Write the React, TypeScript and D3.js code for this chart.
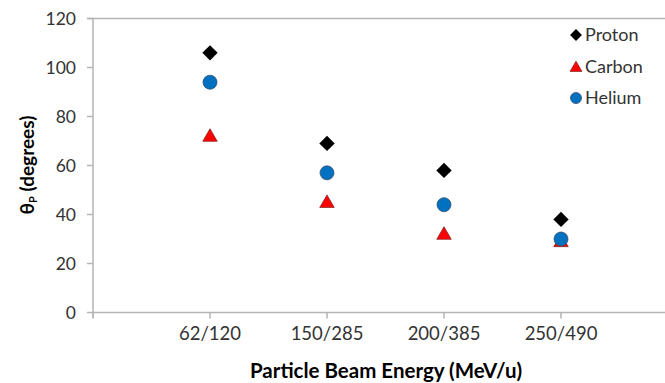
import React from "react";
import * as d3 from "d3";

const categories = ["62/120", "150/285", "200/385", "250/490"];
const proton = [106, 69, 58, 38];
const carbon = [72, 45, 32, 29];
const helium = [94, 57, 44, 30];
const yTicks = [0, 20, 40, 60, 80, 100, 120];

const W = 665;
const H = 383;
const FONT = "Lato, 'Open Sans', sans-serif";
const AXIS = "#b4b4b4";
const TXT = "#333333";

export default function App() {
  const x = d3.scaleLinear().domain([0, 5]).range([93, 678]);
  const y = d3.scaleLinear().domain([0, 120]).range([312.5, 18.5]);
  const diamond = d3.symbol().type(d3.symbolDiamond2).size(150)()!;
  const triangle = d3.symbol().type(d3.symbolTriangle2).size(150)()!;

  const Diamond = ({ cx, cy }: { cx: number; cy: number }) => (
    <path d={diamond} transform={`translate(${cx},${cy})`} fill="#000" />
  );
  const Tri = ({ cx, cy }: { cx: number; cy: number }) => (
    <path d={triangle} transform={`translate(${cx},${cy + 1})`} fill="#ff0000" stroke="#8a2a2a" strokeWidth={0.8} />
  );
  const Circ = ({ cx, cy }: { cx: number; cy: number }) => (
    <circle cx={cx} cy={cy} r={7} fill="#0070c0" stroke="#3a4f6a" strokeWidth={0.8} />
  );

  return (
    <svg width={W} height={H} style={{ position: "absolute", left: 0, top: 0, background: "#fff" }} fontFamily={FONT}>
      {/* top line */}
      <line x1={87} x2={W} y1={y(120)} y2={y(120)} stroke={AXIS} strokeWidth={1.5} />
      {/* y axis */}
      <line x1={x(0)} x2={x(0)} y1={y(120)} y2={y(0) + 5} stroke={AXIS} strokeWidth={1.5} />
      {yTicks.map((t) => (
        <g key={t}>
          <line x1={87} x2={x(0)} y1={y(t)} y2={y(t)} stroke={AXIS} strokeWidth={1.5} />
          <text x={76} y={y(t)} dy="0.36em" textAnchor="end" fontSize={17.5} fill={TXT}>
            {t}
          </text>
        </g>
      ))}
      {/* x axis */}
      <line x1={x(0)} x2={W} y1={y(0)} y2={y(0)} stroke={AXIS} strokeWidth={1.5} />
      {[0, 1, 2, 3, 4].map((i) => (
        <line key={i} x1={x(i)} x2={x(i)} y1={y(0)} y2={y(0) + 6} stroke={AXIS} strokeWidth={1.5} />
      ))}
      {categories.map((c, i) => (
        <text key={c} x={x(i + 1)} y={340} textAnchor="middle" fontSize={18.5} fill={TXT}>
          {c}
        </text>
      ))}
      {/* data */}
      {carbon.map((v, i) => (
        <Tri key={"c" + i} cx={x(i + 1)} cy={y(v)} />
      ))}
      {helium.map((v, i) => (
        <Circ key={"h" + i} cx={x(i + 1)} cy={y(v)} />
      ))}
      {proton.map((v, i) => (
        <Diamond key={"p" + i} cx={x(i + 1)} cy={y(v)} />
      ))}
      {/* axis titles */}
      <text x={386} y={378} textAnchor="middle" fontSize={20.5} fontWeight="bold" fill="#000">
        Particle Beam Energy (MeV/u)
      </text>
      <text transform="translate(34,165) rotate(-90)" textAnchor="middle" fontSize={19} fontWeight="bold" fill="#000">
        θ<tspan fontSize={11} dy={3}>P</tspan>
        <tspan dy={-3}> (degrees)</tspan>
      </text>
      {/* legend */}
      <g>
        <path d={d3.symbol().type(d3.symbolDiamond2).size(90)()!} transform="translate(576,35)" fill="#000" />
        <text x={585} y={35} dy="0.36em" fontSize={18} fill={TXT}>Proton</text>
        <path d={d3.symbol().type(d3.symbolTriangle2).size(100)()!} transform="translate(576,68)" fill="#ff0000" stroke="#8a2a2a" strokeWidth={0.8} />
        <text x={585} y={67} dy="0.36em" fontSize={18} fill={TXT}>Carbon</text>
        <circle cx={576} cy={98} r={5.5} fill="#0070c0" stroke="#3a4f6a" strokeWidth={0.8} />
        <text x={585} y={98} dy="0.36em" fontSize={18} fill={TXT}>Helium</text>
      </g>
    </svg>
  );
}
